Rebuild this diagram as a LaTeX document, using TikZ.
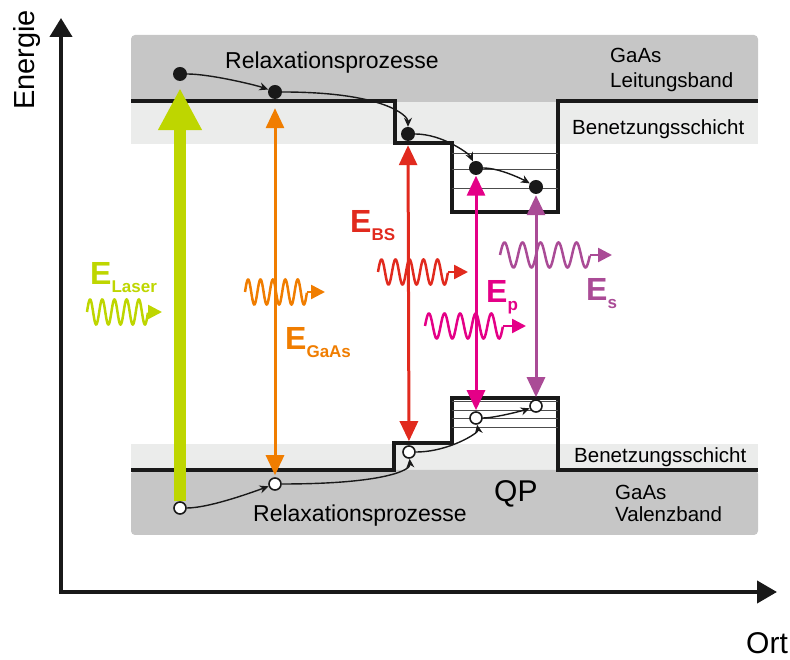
\documentclass[tikz,border=0pt]{standalone}
\usepackage{fontspec}
\setmainfont{Liberation Sans}
\usetikzlibrary{arrows.meta}

\definecolor{laser}{RGB}{190,214,0}
\definecolor{gaas}{RGB}{240,125,0}
\definecolor{bs}{RGB}{225,42,30}
\definecolor{ep}{RGB}{228,0,135}
\definecolor{es}{RGB}{170,75,150}
\definecolor{bandgrau}{RGB}{198,198,198}
\definecolor{wlgrau}{RGB}{235,236,235}

% Photon: Farbe, Start x, Ende Welle, Pfeilspitze, y
\newcommand{\photon}[5]{%
  \draw[#1,line width=2.5pt,domain=0:1,samples=150,smooth] plot ({#2+(#3-#2)*\x},{#5+12.5*sin(1800*\x)});
  \draw[#1,line width=2.5pt,-{Triangle[length=14pt,width=14pt]}] (#3,#5) -- (#4,#5);}
\newcommand{\idx}[1]{\raisebox{-8pt}{\fontsize{17}{17}\selectfont #1}}

\begin{document}
\begin{tikzpicture}[x=1pt,y=1pt,>=Stealth,
  elec/.style={circle,fill=black!90,inner sep=0pt,minimum size=14pt},
  hole/.style={circle,draw=black!90,line width=1.6pt,fill=white,inner sep=0pt,minimum size=12pt},
  band/.style={line width=3.5pt,black!90},
  level/.style={line width=0.8pt,black!70},
  axis/.style={line width=4pt,black!90,{Triangle[length=19pt,width=22pt]}-{Triangle[length=20pt,width=22pt]}},
  relax/.style={line width=1.4pt,black!90,-{Stealth[length=9pt,width=8pt]}},
  trans/.style={line width=3pt,{Triangle[length=20pt,width=18pt]}-{Triangle[length=20pt,width=18pt]}},
  txt/.style={font=\fontsize{20.5}{24}\selectfont,inner sep=0pt,anchor=base west,align=left},
  lab/.style={font=\bfseries\fontsize{32}{32}\selectfont,inner sep=0pt,anchor=base west}]
  \useasboundingbox (0,0) rectangle (790,660);

  % Baender
  \fill[bandgrau,rounded corners=4pt] (131,558) rectangle (758,625);
  \fill[wlgrau] (131,516) rectangle (758,558);
  \fill[wlgrau] (131,190) rectangle (758,216);
  \fill[bandgrau,rounded corners=4pt] (131,125) rectangle (758,190);
  \draw[band] (131,559) -- (395,559) -- (395,517) -- (452,517) -- (452,448) -- (558,448) -- (558,559) -- (758,559);
  \draw[band] (131,190) -- (394,190) -- (394,217) -- (452,217) -- (452,262) -- (558,262) -- (558,190) -- (758,190);
  \foreach \y in {507,491,472} \draw[level] (452,\y) -- (558,\y);
  \foreach \y in {259,250,242,233} \draw[level] (452,\y) -- (558,\y);

  % Achsen
  \coordinate (o) at (61,68);
  \coordinate (ytip) at (61,642);
  \coordinate (xtip) at (777,68);
  \draw[axis] (ytip) -- (o) -- (xtip);
  \node[rotate=90,anchor=base,font=\fontsize{29}{29}\selectfont,inner sep=0pt] (energie) at (35,600) {Energie};
  \node[anchor=base,font=\fontsize{30}{30}\selectfont,inner sep=0pt] (ort) at (767,6) {Ort};

  % Elektronen und Loecher
  \node[elec] (e1) at (180,586) {};
  \node[elec] (e2) at (275,568) {};
  \node[elec] (e3) at (408,526) {};
  \node[elec] (e4) at (476,492) {};
  \node[elec] (e5) at (536,473) {};
  \node[hole] (h1) at (180,152) {};
  \node[hole] (h2) at (275,176) {};
  \node[hole] (h3) at (409,208) {};
  \node[hole] (h4) at (476,242) {};
  \node[hole] (h5) at (536,254) {};

  % Relaxation
  \draw[relax] (e1) .. controls +(0:30) and +(160:20) .. (e2);
  \draw[relax] (e2) .. controls +(0:110) and +(90:18) .. (e3);
  \draw[relax] (e3) .. controls +(0:35) and +(115:15) .. (e4);
  \draw[relax] (e4) .. controls +(0:25) and +(150:12) .. (e5);
  \draw[relax] (h1) .. controls +(0:30) and +(200:20) .. (h2);
  \draw[relax] (h2) .. controls +(0:110) and +(-85:18) .. (h3);
  \draw[relax] (h3) .. controls +(0:40) and +(-80:15) .. (h4);
  \draw[relax] (h4) .. controls +(0:20) and +(200:10) .. (h5);

  % Uebergaenge
  \draw[laser,line width=12pt,-{Triangle[length=42pt,width=41pt]},shorten >=7pt] (h1) -- (e1);
  \draw[trans,gaas,shorten <=9pt,shorten >=2pt] (e2) -- (h2);
  \draw[trans,bs,shorten <=4pt,shorten >=4pt] (e3) -- (h3);
  \draw[trans,ep,shorten <=0.5pt,shorten >=1pt] (e4) -- (h4);
  \draw[trans,es,shorten <=1pt,shorten >=2pt] (e5) -- (h5);

  % Photonen
  \photon{laser}{87}{148}{162}{348}
  \photon{gaas}{245}{307}{325}{368}
  \photon{bs}{378}{448}{468}{388}
  \photon{ep}{425}{503}{526}{334}
  \photon{es}{500}{590}{612}{405}

  \node[lab,laser] (elaser) at (90,375) {E\idx{Laser}};
  \node[lab,gaas] (egaas) at (285,310) {E\idx{GaAs}};
  \node[lab,bs] (ebs) at (350,427) {E\idx{BS}};
  \node[lab,ep] (eep) at (486,357) {E\idx{p}};
  \node[lab,es] (ees) at (586,359) {E\idx{s}};

  % Beschriftung
  \node[txt,font=\fontsize{23}{23}\selectfont] (relaxo) at (225,591) {Relaxationsprozesse};
  \node[txt,font=\fontsize{23}{23}\selectfont] (relaxu) at (253,138) {Relaxationsprozesse};
  \node[txt,font=\fontsize{20.5}{25}\selectfont] (lb) at (610,572) {GaAs\\Leitungsband};
  \node[txt] (bso) at (572,525) {Benetzungsschicht};
  \node[txt] (bsu) at (574,197) {Benetzungsschicht};
  \node[txt,font=\fontsize{20.5}{22}\selectfont] (vb) at (615,138) {GaAs\\Valenzband};
  \node[txt,font=\fontsize{30}{30}\selectfont] (qp) at (494,158) {QP};
\end{tikzpicture}
\end{document}
